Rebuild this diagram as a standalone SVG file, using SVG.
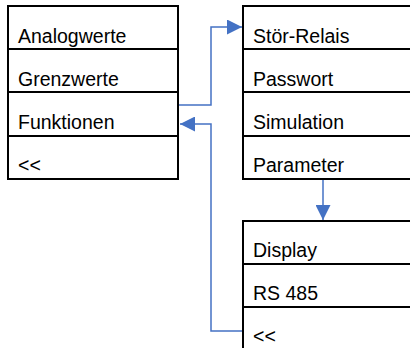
<svg xmlns="http://www.w3.org/2000/svg" width="410" height="348" viewBox="0 0 410 348">
<defs>
<style>
.box{fill:#fff;stroke:#000;stroke-width:2}
.sep{stroke:#000;stroke-width:2}
.t{font-family:"Liberation Sans",Arial,sans-serif;font-size:19.5px;fill:#000}
.c{fill:none;stroke:#4472C4;stroke-width:1.5}
</style>
<marker id="ah" markerUnits="userSpaceOnUse" markerWidth="15" markerHeight="15" viewBox="0 0 15 15" refX="15" refY="7.5" orient="auto">
<path d="M0,0 L15,7.5 L0,15 Z" fill="#4472C4"/>
</marker>
</defs>
<g id="menu-main">
<rect class="box" x="8" y="6" width="170" height="173"/>
<line class="sep" x1="8" y1="49" x2="178" y2="49"/>
<line class="sep" x1="8" y1="92" x2="178" y2="92"/>
<line class="sep" x1="8" y1="136" x2="178" y2="136"/>
<text class="t" x="18" y="43">Analogwerte</text>
<text class="t" x="18" y="86">Grenzwerte</text>
<text class="t" x="18" y="129">Funktionen</text>
<text class="t" x="18" y="172">&lt;&lt;</text>
</g>
<g id="menu-funktionen">
<rect class="box" x="243" y="6" width="180" height="173"/>
<line class="sep" x1="243" y1="49" x2="423" y2="49"/>
<line class="sep" x1="243" y1="92" x2="423" y2="92"/>
<line class="sep" x1="243" y1="136" x2="423" y2="136"/>
<text class="t" x="253" y="43">Stör-Relais</text>
<text class="t" x="253" y="86">Passwort</text>
<text class="t" x="253" y="129">Simulation</text>
<text class="t" x="253" y="172">Parameter</text>
</g>
<g id="menu-parameter">
<rect class="box" x="243" y="221" width="180" height="140"/>
<line class="sep" x1="243" y1="264" x2="423" y2="264"/>
<line class="sep" x1="243" y1="307" x2="423" y2="307"/>
<text class="t" x="253" y="257">Display</text>
<text class="t" x="253" y="300">RS 485</text>
<text class="t" x="253" y="343">&lt;&lt;</text>
</g>
<g id="connectors">
<polyline class="c" points="179,105 211,105 211,27 242,27" marker-end="url(#ah)"/>
<polyline class="c" points="242,331 211,331 211,124 180,124" marker-end="url(#ah)"/>
<polyline class="c" points="323,180 323,220" marker-end="url(#ah)"/>
</g>
</svg>
